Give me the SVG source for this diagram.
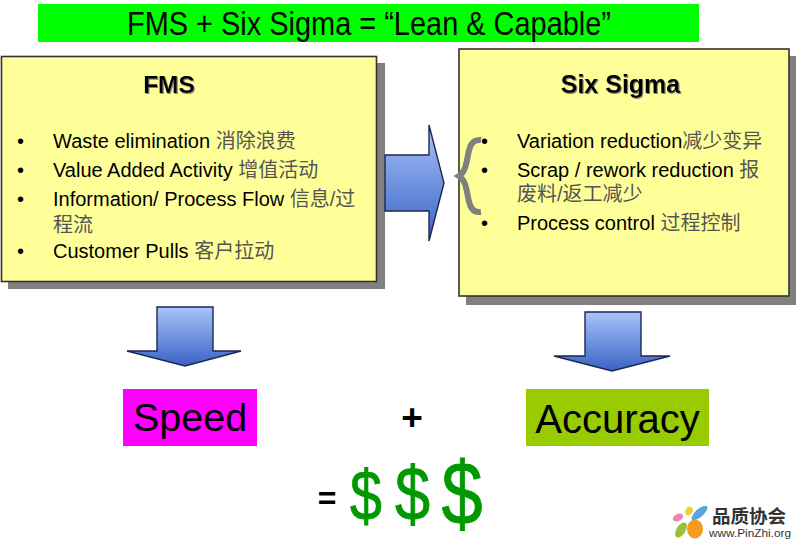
<svg xmlns="http://www.w3.org/2000/svg" width="796" height="543" viewBox="0 0 796 543">
<style>
text{font-family:"Liberation Sans","Noto Sans CJK SC",sans-serif;fill:#000}
.b{font-size:20px;fill:#111}
.c{fill:#555}
.h{font-size:24.5px;font-weight:bold;text-anchor:middle;filter:url(#ts)}
.box{fill:#ffff99;stroke:#333;stroke-width:1.6}
.sh{fill:#808080}
.ar{stroke:#1c2a50;stroke-width:1.4}
.d{text-anchor:middle;fill:#009900;stroke:#009900;stroke-width:.8}
</style>
<defs>
<linearGradient id="gv" x1="0" y1="0" x2="0" y2="1"><stop offset="0" stop-color="#a8c4fb"/><stop offset="1" stop-color="#3a62c4"/></linearGradient>
<filter id="ts" x="-10%" y="-20%" width="120%" height="140%"><feDropShadow dx="1" dy="1" stdDeviation="0.6" flood-color="#808080"/></filter>
</defs>
<rect width="796" height="543" fill="#fff"/>
<g id="title"><rect x="38" y="4" width="661" height="38" fill="#00ff00"/>
<text x="369" y="35" font-size="34" text-anchor="middle" textLength="484" lengthAdjust="spacingAndGlyphs">FMS + Six Sigma = “Lean &amp; Capable”</text></g>
<g id="fms">
<rect class="sh" x="8" y="63" width="377" height="226"/>
<rect class="box" x="1.500" y="56.500" width="375" height="225"/>
<text class="h" x="169" y="93">FMS</text>
<g class="b">
<text x="17" y="148">•</text><text x="53" y="148">Waste elimination <tspan class="c">消除浪费</tspan></text>
<text x="17" y="177">•</text><text x="53" y="177">Value Added Activity <tspan class="c">增值活动</tspan></text>
<text x="17" y="206">•</text><text x="53" y="206">Information/ Process Flow <tspan class="c">信息/过</tspan></text>
<text x="53" y="232" class="c">程流</text>
<text x="17" y="258">•</text><text x="53" y="258">Customer Pulls <tspan class="c">客户拉动</tspan></text>
</g></g>
<g id="six-sigma">
<rect class="sh" x="466" y="56" width="331" height="249"/>
<rect class="box" x="459" y="49" width="330" height="247"/>
<text class="h" x="620.500" y="93" style="font-size:25px">Six Sigma</text>
<g class="b">
<text x="481" y="148">•</text><text x="517" y="148">Variation reduction<tspan class="c">减少变异</tspan></text>
<text x="481" y="177">•</text><text x="517" y="177">Scrap / rework reduction <tspan class="c">报</tspan></text>
<text x="517" y="201" class="c">废料/返工减少</text>
<text x="481" y="230">•</text><text x="517" y="230">Process control <tspan class="c">过程控制</tspan></text>
</g>
<path d="M481 140C463 138 472 168 459 176C472 184 463 214 481 212" fill="none" stroke="#808080" stroke-width="6"/>
</g>
<g id="connectors">
<path class="ar" fill="url(#gv)" d="M385 155H429V125L444 183L429 241V211H385Z"/>
<path class="ar" fill="url(#gv)" d="M157 307H213V351H241L185 366L127 351H157Z"/>
<path class="ar" fill="url(#gv)" d="M585 312H641V356H670L612 371L554 356H585Z"/>
</g>
<g id="speed"><rect x="123" y="389" width="134" height="57" fill="#ff00ff"/>
<text x="190" y="431" font-size="39.500" text-anchor="middle">Speed</text></g>
<g id="plus"><text x="412" y="430" font-size="37" font-weight="bold" text-anchor="middle">+</text></g>
<g id="accuracy"><rect x="526" y="389" width="183" height="57" fill="#99cc00"/>
<text x="617.500" y="433" font-size="40" text-anchor="middle">Accuracy</text></g>
<g id="result">
<text x="327" y="509" font-size="32" font-weight="bold" text-anchor="middle">=</text>
<text class="d" transform="translate(366 520) scale(.82 1)" font-size="70">$</text>
<text class="d" transform="translate(412.500 520) scale(.83 1)" font-size="76">$</text>
<text class="d" transform="translate(462 524) scale(.88 1.050)" font-size="84">$</text>
</g>
<g id="logo">
<ellipse cx="681" cy="530" rx="4.500" ry="8.500" transform="rotate(32 681 530)" fill="#9bbf3a"/>
<ellipse cx="678" cy="517.500" rx="5.500" ry="3.500" transform="rotate(-25 678 517.500)" fill="#e88ab0"/>
<ellipse cx="689" cy="511" rx="3.500" ry="4.500" transform="rotate(35 689 511)" fill="#f2d23a"/>
<ellipse cx="699.500" cy="513" rx="4" ry="10" transform="rotate(48 699.500 513)" fill="#5aa5dc"/>
<ellipse cx="695" cy="529" rx="8" ry="9.500" fill="#f59a23"/>
<text x="712" y="523" font-size="18.500" font-weight="bold" style="fill:#333">品质协会</text>
<text x="709" y="537" font-size="11.800" style="fill:#333">www.PinZhi.org</text>
</g>
</svg>
